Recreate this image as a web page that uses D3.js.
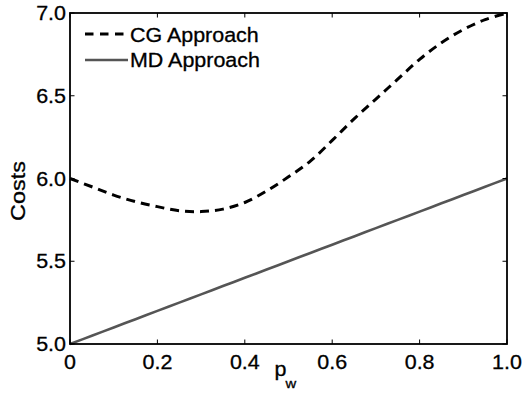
<!DOCTYPE html>
<html>
<head>
<meta charset="utf-8">
<script src="https://cdn.jsdelivr.net/npm/d3@7"></script>
<style>
  html, body { margin: 0; padding: 0; background: #fff; }
  svg { display: block; }
  text { font-family: "Liberation Sans", Arial, Helvetica, sans-serif; fill: #000; stroke: #000; stroke-width: 0.3px; }
</style>
</head>
<body>
<svg id="chart" width="522" height="394"></svg>
<script>
// ---- data ----
const pw = [0, 0.05, 0.1, 0.15, 0.2, 0.25, 0.3, 0.35, 0.4, 0.45, 0.5, 0.55, 0.6, 0.65, 0.7, 0.75, 0.8, 0.85, 0.9, 0.95, 1.0];
const cgCosts = [6.0, 5.95, 5.90, 5.86, 5.83, 5.805, 5.80, 5.815, 5.855, 5.925, 6.01, 6.105, 6.23, 6.36, 6.48, 6.60, 6.72, 6.82, 6.90, 6.96, 7.0];
const mdCosts = [5.0, 5.05, 5.1, 5.15, 5.2, 5.25, 5.3, 5.35, 5.4, 5.45, 5.5, 5.55, 5.6, 5.65, 5.7, 5.75, 5.8, 5.85, 5.9, 5.95, 6.0];
const xTicks = [0, 0.2, 0.4, 0.6, 0.8, 1.0];
const xTickLabels = ["0", "0.2", "0.4", "0.6", "0.8", "1.0"];
const yTicks = [5.0, 5.5, 6.0, 6.5, 7.0];
const yTickLabels = ["5.0", "5.5", "6.0", "6.5", "7.0"];
const seriesNames = ["CG Approach", "MD Approach"];

// ---- layout ----
const L = 70, R = 507, T = 13, B = 344;
const FS = 19.5, SX = 1.1, TICK = 4.5;
const svg = d3.select("#chart");
const x = d3.scaleLinear().domain([0, 1]).range([L, R]);
const y = d3.scaleLinear().domain([5, 7]).range([B, T]);

function txt(g, s, tx, ty, anchor, size, extra, sx) {
  return g.append("text")
    .attr("transform", `translate(${tx},${ty})` + (extra || "") + ` scale(${sx || SX},1)`)
    .attr("text-anchor", anchor)
    .style("font-size", (size || FS) + "px")
    .text(s);
}

// series lines
const line = d3.line().x((d, i) => x(pw[i])).y(d => y(d)).curve(d3.curveCatmullRom.alpha(0.5));
svg.append("path").datum(mdCosts).attr("d", line)
  .attr("fill", "none").attr("stroke", "#555").attr("stroke-width", 2.6);
svg.append("path").datum(cgCosts).attr("d", line)
  .attr("fill", "none").attr("stroke", "#000").attr("stroke-width", 3)
  .attr("stroke-dasharray", "9,6");

// axes frame and ticks
const ax = svg.append("g");
ax.append("rect").attr("x", L).attr("y", T).attr("width", R - L).attr("height", B - T)
  .attr("fill", "none").attr("stroke", "#000").attr("stroke-width", 1.8);
xTicks.forEach((t, i) => {
  ax.append("line").attr("x1", x(t)).attr("x2", x(t)).attr("y1", B).attr("y2", B - TICK).attr("stroke", "#000").attr("stroke-width", 1);
  ax.append("line").attr("x1", x(t)).attr("x2", x(t)).attr("y1", T).attr("y2", T + TICK).attr("stroke", "#000").attr("stroke-width", 1);
  txt(ax, xTickLabels[i], x(t), B + 25, "middle");
});
yTicks.forEach((t, i) => {
  ax.append("line").attr("x1", L).attr("x2", L + TICK).attr("y1", y(t)).attr("y2", y(t)).attr("stroke", "#000").attr("stroke-width", 1);
  ax.append("line").attr("x1", R).attr("x2", R - TICK).attr("y1", y(t)).attr("y2", y(t)).attr("stroke", "#000").attr("stroke-width", 1);
  txt(ax, yTickLabels[i], L - 4, y(t) + 7, "end");
});

// axis labels
txt(svg, "Costs", 25, 191, "middle", FS, " rotate(-90)", 1.2);
txt(svg, "p", 274.5, 376, "start");
txt(svg, "w", 285.5, 388, "start", 13.5);

// legend
const lg = svg.append("g");
lg.append("line").attr("x1", 85).attr("x2", 128).attr("y1", 34).attr("y2", 34)
  .attr("stroke", "#000").attr("stroke-width", 3).attr("stroke-dasharray", "8.5,6.5");
lg.append("line").attr("x1", 85).attr("x2", 128).attr("y1", 60).attr("y2", 60)
  .attr("stroke", "#555").attr("stroke-width", 2.6);
txt(lg, seriesNames[0], 130, 42, "start", FS, "", 1.1);
txt(lg, seriesNames[1], 130, 67, "start", FS, "", 1.1);
</script>
</body>
</html>
